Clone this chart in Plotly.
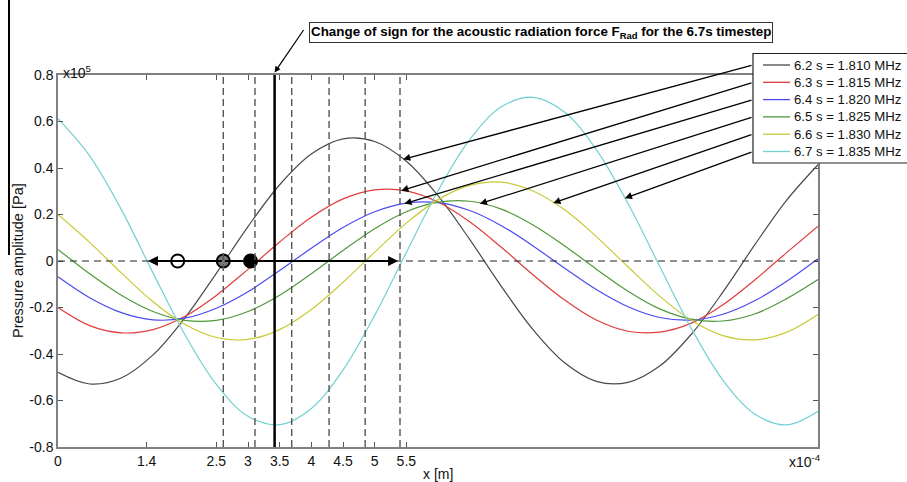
import numpy as np
import plotly.graph_objects as go

# ---------------- data ----------------
x_pos = [0.0, 0.5, 1.0, 1.5, 2.0, 2.5, 3.0, 3.5, 4.0, 4.5, 5.0, 5.5, 6.0,
         6.5, 7.0, 7.5, 8.0, 8.5, 9.0, 9.5, 10.0, 10.5, 11.0, 11.5, 12.0]

p_62 = [-0.479, -0.529, -0.503, -0.404, -0.246, -0.053, 0.148, 0.328, 0.460,
        0.525, 0.514, 0.429, 0.281, 0.093, -0.109, -0.295, -0.438, -0.518,
        -0.522, -0.452, -0.315, -0.133, 0.069, 0.260, 0.414]
p_63 = [-0.200, -0.278, -0.309, -0.295, -0.239, -0.148, -0.036, 0.082, 0.188,
        0.267, 0.306, 0.302, 0.254, 0.169, 0.059, -0.059, -0.168, -0.254,
        -0.302, -0.306, -0.267, -0.188, -0.082, 0.035, 0.150]
p_64 = [-0.068, -0.158, -0.222, -0.253, -0.246, -0.203, -0.132, -0.041, 0.055,
        0.144, 0.212, 0.249, 0.251, 0.217, 0.152, 0.065, -0.031, -0.123,
        -0.197, -0.243, -0.254, -0.229, -0.171, -0.088, 0.010]
p_65 = [0.050, -0.055, -0.147, -0.217, -0.255, -0.255, -0.217, -0.147, -0.055,
        0.045, 0.139, 0.212, 0.253, 0.257, 0.223, 0.155, 0.065, -0.035,
        -0.130, -0.206, -0.250, -0.258, -0.228, -0.163, -0.080]
p_66 = [0.200, 0.080, -0.051, -0.175, -0.272, -0.329, -0.337, -0.295, -0.209,
        -0.092, 0.038, 0.163, 0.264, 0.325, 0.339, 0.301, 0.220, 0.105,
        -0.025, -0.151, -0.255, -0.321, -0.339, -0.307, -0.230]
p_67 = [0.612, 0.452, 0.221, -0.051, -0.315, -0.531, -0.668, -0.704, -0.634,
        -0.469, -0.234, 0.037, 0.302, 0.522, 0.663, 0.704, 0.640, 0.479,
        0.247, -0.023, -0.290, -0.513, -0.658, -0.705, -0.646]

series_names = ["6.2 s = 1.810 MHz", "6.3 s = 1.815 MHz", "6.4 s = 1.820 MHz",
                "6.5 s = 1.825 MHz", "6.6 s = 1.830 MHz", "6.7 s = 1.835 MHz"]
series_values = [p_62, p_63, p_64, p_65, p_66, p_67]
series_colors = ["#4a4a4a", "#e23c3c", "#4b4bf0", "#4e9a3a", "#c9c936", "#72d0d0"]

x_tickvals = [0, 1.4, 2.5, 3, 3.5, 4, 4.5, 5, 5.5]
x_ticktext = ["0", "1.4", "2.5", "3", "3.5", "4", "4.5", "5", "5.5"]
y_tickvals = [-0.8, -0.6, -0.4, -0.2, 0, 0.2, 0.4, 0.6, 0.8]
y_ticktext = ["-0.8", "-0.6", "-0.4", "-0.2", "0", "0.2", "0.4", "0.6", "0.8"]

zero_crossings = [2.61, 3.11, 3.69, 4.28, 4.85, 5.40]   # dashed verticals
sign_change_x = 3.42                                     # solid vertical
node_x = [1.89, 2.61, 3.04]                              # circles on y=0
node_fill = ["white", "#777777", "black"]
arrow_left_end = 1.42
arrow_right_end = 5.37
legend_arrow_x = [5.45, 5.42, 5.47, 6.66, 7.82, 8.95]    # where arrows hit curves

FONT = "Arial, Liberation Sans, sans-serif"

# page geometry (pixels) used for the hand-placed legend / labels
L, R, T, B = 58, 89, 75, 35
W, H = 907, 482
PW, PH = W - L - R, H - T - B


def px_x(px):
    return (px - L) / PW


def px_y(py):
    return (H - B - py) / PH


fig = go.Figure()
for name, ys, col in zip(series_names, series_values, series_colors):
    fig.add_trace(go.Scatter(x=x_pos, y=ys, mode="lines", name=name, showlegend=False,
                             line=dict(color=col, width=1.2, shape="spline", smoothing=1.0)))

shapes = []
annotations = []

# zero dashed horizontal line
shapes.append(dict(type="line", xref="x", yref="y", x0=0, x1=12, y0=0, y1=0,
                   line=dict(color="#222222", width=1, dash="7px,5px")))
for xc in zero_crossings:
    shapes.append(dict(type="line", xref="x", yref="paper", x0=xc, x1=xc, y0=0, y1=1,
                       line=dict(color="#555555", width=1.4, dash="7px,4px")))
shapes.append(dict(type="line", xref="x", yref="paper", x0=sign_change_x, x1=sign_change_x,
                   y0=0, y1=1, line=dict(color="black", width=2.5)))
# stray frame line at the left edge of the reference image
shapes.append(dict(type="line", xref="paper", yref="paper", x0=px_x(9), x1=px_x(9),
                   y0=px_y(255), y1=px_y(0), line=dict(color="black", width=2)))

# ---------------- legend box (hand placed, like the MATLAB legend) ----------------
leg_left, leg_top, leg_bottom = 753, 53.5, 163
row_y = [65, 82.3, 99.6, 116.9, 134.2, 151.5]
shapes.append(dict(type="rect", xref="paper", yref="paper", x0=px_x(leg_left), x1=px_x(912),
                   y0=px_y(leg_bottom), y1=px_y(leg_top),
                   line=dict(color="#222222", width=1.2), fillcolor="white", layer="above"))
for name, col, ry in zip(series_names, series_colors, row_y):
    shapes.append(dict(type="line", xref="paper", yref="paper", x0=px_x(763), x1=px_x(790),
                       y0=px_y(ry), y1=px_y(ry), line=dict(color=col, width=1.3)))
    annotations.append(dict(x=px_x(792), y=px_y(ry), xref="paper", yref="paper",
                            xanchor="left", yanchor="middle", showarrow=False, text=name,
                            font=dict(family=FONT, size=13.2, color="#111111")))

# double arrow on y = 0
annotations.append(dict(x=arrow_right_end, y=0, ax=node_x[1], ay=0, xref="x", yref="y",
                        axref="x", ayref="y", text="", showarrow=True, arrowhead=2,
                        arrowsize=1, arrowwidth=2, arrowcolor="black"))
annotations.append(dict(x=arrow_left_end, y=0, ax=node_x[1], ay=0, xref="x", yref="y",
                        axref="x", ayref="y", text="", showarrow=True, arrowhead=2,
                        arrowsize=1, arrowwidth=2, arrowcolor="black"))
# legend arrows: from the legend's left edge to the curves
for ax_x, ys, ry in zip(legend_arrow_x, series_values, row_y):
    hy = float(np.interp(ax_x, x_pos, ys))
    tail_x = (leg_left - L) / PW * 12
    tail_y = 0.8 - (ry - T) / PH * 1.6
    annotations.append(dict(x=ax_x, y=hy, ax=tail_x, ay=tail_y, xref="x", yref="y",
                            axref="x", ayref="y", text="", showarrow=True, arrowhead=2,
                            arrowsize=1.1, arrowwidth=1.3, arrowcolor="black"))
# top callout box
annotations.append(dict(x=px_x(541), y=px_y(32.5), xref="paper", yref="paper", xanchor="center",
                        yanchor="middle", showarrow=False,
                        text="<b>Change of sign for the acoustic radiation force F<sub>Rad</sub> for the 6.7s timestep</b>",
                        font=dict(family=FONT, size=13.4, color="black"),
                        bordercolor="#333333", borderwidth=1, borderpad=1, bgcolor="white"))
annotations.append(dict(x=sign_change_x, y=px_y(72.5), xref="x", yref="paper", ax=30, ay=-44,
                        text="", showarrow=True, arrowhead=2, arrowsize=1, arrowwidth=1.2,
                        arrowcolor="black"))
# axis texts
annotations.append(dict(x=0.5, y=px_y(474), xref="paper", yref="paper", xanchor="center",
                        yanchor="middle", showarrow=False, text="x [m]",
                        font=dict(family=FONT, size=14, color="#111111")))
annotations.append(dict(x=px_x(823), y=px_y(461), xref="paper", yref="paper", xanchor="right",
                        yanchor="middle", showarrow=False, text="x10<sup>-4</sup>",
                        font=dict(family=FONT, size=14, color="#111111")))
annotations.append(dict(x=px_x(61), y=px_y(72), xref="paper", yref="paper", xanchor="left",
                        yanchor="middle", showarrow=False, text="x10<sup>5</sup>",
                        font=dict(family=FONT, size=14, color="#111111")))
annotations.append(dict(x=px_x(18), y=0.5, xref="paper", yref="paper", xanchor="center",
                        yanchor="middle", showarrow=False, textangle=-90,
                        text="Pressure amplitude [Pa]",
                        font=dict(family=FONT, size=14.5, color="#111111")))

fig.add_trace(go.Scatter(x=node_x, y=[0] * len(node_x), mode="markers", showlegend=False,
                         marker=dict(size=13, color=node_fill,
                                     line=dict(color="black", width=2))))

fig.update_layout(
    width=W, height=H,
    margin=dict(l=L, r=R, t=T, b=B, autoexpand=False),
    paper_bgcolor="white", plot_bgcolor="white",
    font=dict(family=FONT, size=14, color="#111111"),
    shapes=shapes, annotations=annotations, showlegend=False,
    xaxis=dict(range=[0, 12], tickvals=x_tickvals, ticktext=x_ticktext,
               ticks="inside", ticklen=5, tickcolor="#555555", showline=True,
               linecolor="#808080", linewidth=1.5, mirror="ticks", showgrid=False,
               zeroline=False, tickfont=dict(family=FONT, size=14, color="#111111")),
    yaxis=dict(range=[-0.8, 0.8], tickvals=y_tickvals, ticktext=y_ticktext,
               ticks="inside", ticklen=5, tickcolor="#555555", showline=True,
               linecolor="#808080", linewidth=1.5, mirror="ticks", showgrid=False,
               zeroline=False, tickfont=dict(family=FONT, size=14, color="#111111")),
)

fig.write_html("out.html")
